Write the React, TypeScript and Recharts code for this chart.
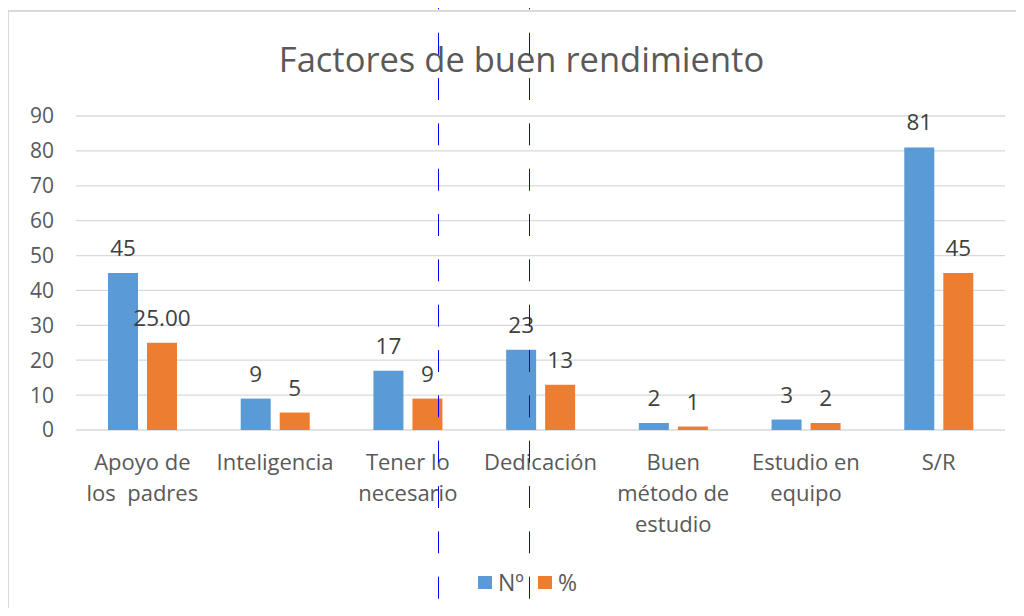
import React from "react";
import { BarChart, Bar, XAxis, YAxis, CartesianGrid, Legend, LabelList } from "recharts";

const categories = [
  "Apoyo de\nlos  padres",
  "Inteligencia",
  "Tener lo\nnecesario",
  "Dedicación",
  "Buen\nmétodo de\nestudio",
  "Estudio en\nequipo",
  "S/R",
];
const countValues = [45, 9, 17, 23, 2, 3, 81];
const pctValues = [25, 5, 9, 13, 1, 2, 45];
const pctLabels = ["25.00", "5", "9", "13", "1", "2", "45"];
const yTicks = [0, 10, 20, 30, 40, 50, 60, 70, 80, 90];
const seriesNames = ["Nº", "%"];
const title = "Factores de buen rendimiento";

const data = categories.map((c, i) => ({
  name: c,
  count: countValues[i],
  pct: pctValues[i],
  pctLabel: pctLabels[i],
}));

const FONT = "'Open Sans', sans-serif";
const BLUE = "#5B9BD5";
const ORANGE = "#ED7D31";
const TEXT = "#595959";

const CategoryTick = (props: any) => {
  const { x, y, payload } = props;
  const lines = String(payload.value).split("\n");
  return (
    <text x={x} y={y} textAnchor="middle" fill={TEXT} fontSize={22} fontFamily={FONT}>
      {lines.map((l: string, i: number) => (
        <tspan key={i} x={x} y={y + 40 + i * 31} style={{ whiteSpace: "pre" }}>
          {l}
        </tspan>
      ))}
    </text>
  );
};

const LegendContent = () => (
  <div
    style={{
      display: "flex",
      justifyContent: "center",
      alignItems: "center",
      fontFamily: FONT,
      fontSize: 23,
      color: TEXT,
      height: 40,
      marginTop: 3,
      paddingLeft: 34,
    }}
  >
    <span style={{ display: "inline-block", width: 14, height: 13, background: BLUE, marginRight: 6 }} />
    <span style={{ marginRight: 14 }}>{seriesNames[0]}</span>
    <span style={{ display: "inline-block", width: 14, height: 13, background: ORANGE, marginRight: 6 }} />
    <span>{seriesNames[1]}</span>
  </div>
);

export default function App() {
  return (
    <div style={{ position: "relative", width: 1016, height: 600 }}>
      <div style={{ position: "absolute", left: -8, top: -8, width: 1024, height: 616, overflow: "hidden" }}>
        <div
          style={{
            position: "absolute",
            left: 7,
            top: 10,
            width: 1100,
            height: 700,
            borderTop: "2px solid #d9d9d9",
            borderLeft: "2px solid #d9d9d9",
          }}
        />
        <div
          style={{
            position: "absolute",
            left: 0,
            width: 1043,
            top: 34,
            textAlign: "center",
            fontFamily: FONT,
            fontSize: 34.5,
            color: TEXT,
            lineHeight: "50px",
          }}
        >
          {title}
        </div>
        <div style={{ position: "absolute", left: 0, top: 0 }}>
          <BarChart
            width={1024}
            height={616}
            data={data}
            margin={{ top: 116, right: 19, bottom: 17, left: 16 }}
            barGap={9}
            barSize={30}
          >
            <CartesianGrid vertical={false} stroke="#d9d9d9" strokeWidth={1.3} />
            <XAxis
              dataKey="name"
              axisLine={false}
              tickLine={false}
              tickSize={0}
              tickMargin={0}
              height={129}
              interval={0}
              tick={<CategoryTick />}
            />
            <YAxis
              domain={[0, 90]}
              ticks={yTicks}
              axisLine={false}
              tickLine={false}
              tickSize={0}
              tickMargin={22}
              width={60}
              tick={{ fill: TEXT, fontSize: 21, fontFamily: FONT }}
            />
            <Legend verticalAlign="bottom" height={40} content={<LegendContent />} />
            <Bar dataKey="count" name={seriesNames[0]} fill={BLUE} isAnimationActive={false}>
              <LabelList dataKey="count" position="top" offset={17} fill="#404040" fontSize={22.5} fontFamily={FONT} />
            </Bar>
            <Bar dataKey="pct" name={seriesNames[1]} fill={ORANGE} isAnimationActive={false}>
              <LabelList dataKey="pctLabel" position="top" offset={17} fill="#404040" fontSize={22.5} fontFamily={FONT} />
            </Bar>
          </BarChart>
        </div>
        <svg
          width={1024}
          height={616}
          style={{ position: "absolute", left: 0, top: 0, pointerEvents: "none" }}
        >
          <line x1={438.5} x2={438.5} y1={-12.6} y2={616} stroke="#0000ff" strokeWidth={1} strokeDasharray="22 23.33" />
          <line x1={529.5} x2={529.5} y1={-12.6} y2={616} stroke="#0000ff" strokeWidth={1} strokeDasharray="22 23.33" />
        </svg>
      </div>
    </div>
  );
}
